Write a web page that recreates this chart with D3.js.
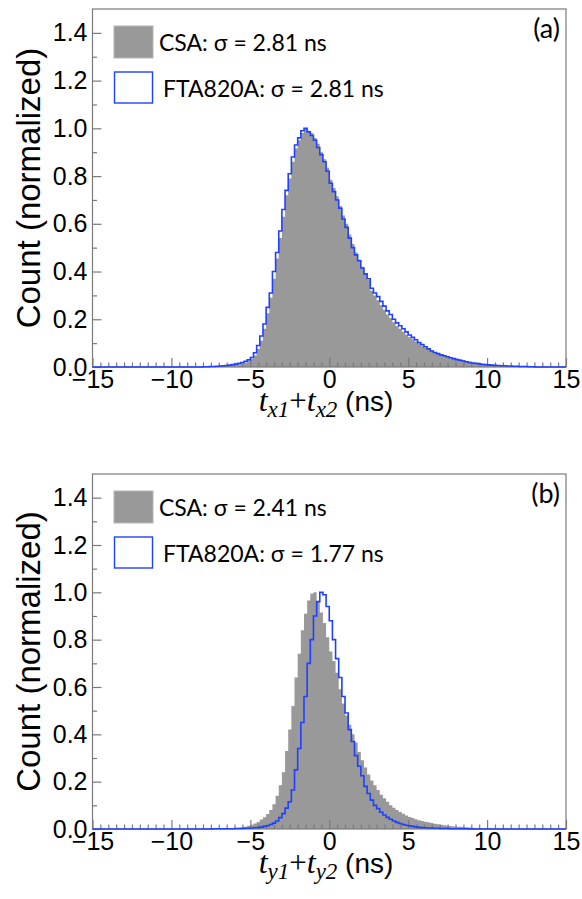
<!DOCTYPE html>
<html lang="en">
<head>
  <meta charset="UTF-8">
  <title>Timing sum distributions: CSA vs FTA820A</title>
  <script src="https://d3js.org/d3.v7.min.js"></script>
  <style>
    body { margin: 0; background: #fff; }
    svg { display: block; }
    .tick text { font-family: "Liberation Sans", Arial, sans-serif; font-size: 25px; fill: #000; }
    .tick line { stroke: #7a7a7a; stroke-width: 1.2; }
    .legend-text { font-family: Lato, "Open Sans", sans-serif; font-size: 23px; fill: #000; }
    .tag-text { font-family: Lato, "Open Sans", sans-serif; font-size: 27px; fill: #000; }
    .ylab { font-family: "Liberation Sans", Arial, sans-serif; font-size: 33px; fill: #000; }
  </style>
</head>
<body>
  <div id="chart"></div>
  <script>
    // histogram bins: first stored bin starts at binStart, all bins outside are empty
    const xMin = -15, xMax = 15;
    const binStart = -8;
    const binWidth = 0.2;

    // panel (a): t_x1 + t_x2
    const csaA = [
      0.001, 0.001, 0.001, 0.002, 0.002, 0.003, 0.004, 0.005, 0.006, 0.008,
      0.010, 0.012, 0.015, 0.019, 0.025, 0.033, 0.048, 0.075, 0.11, 0.16,
      0.225, 0.29, 0.37, 0.455, 0.54, 0.63, 0.72, 0.79, 0.86, 0.915,
      0.95, 0.98, 1.00, 0.99, 0.98, 0.96, 0.935, 0.90, 0.87, 0.835,
      0.785, 0.75, 0.715, 0.675, 0.635, 0.60, 0.555, 0.515, 0.48, 0.45,
      0.42, 0.39, 0.365, 0.32, 0.30, 0.28, 0.26, 0.24, 0.22, 0.205,
      0.187, 0.172, 0.16, 0.148, 0.136, 0.125, 0.116, 0.107, 0.097, 0.09,
      0.082, 0.075, 0.068, 0.063, 0.058, 0.054, 0.050, 0.046, 0.042, 0.038,
      0.035, 0.032, 0.028, 0.025, 0.022, 0.020, 0.017, 0.015, 0.013, 0.011,
      0.010, 0.009, 0.008, 0.007, 0.006, 0.005, 0.005, 0.004, 0.004, 0.003,
      0.003, 0.002, 0.002, 0.001, 0.001
    ];
    const ftaA = [
      0.001, 0.001, 0.002, 0.002, 0.003, 0.004, 0.005, 0.006, 0.008, 0.010,
      0.012, 0.015, 0.019, 0.024, 0.030, 0.040, 0.060, 0.090, 0.13, 0.18,
      0.25, 0.31, 0.40, 0.48, 0.57, 0.66, 0.74, 0.81, 0.88, 0.93,
      0.96, 0.99, 1.00, 0.985, 0.97, 0.95, 0.92, 0.89, 0.86, 0.82,
      0.77, 0.735, 0.70, 0.665, 0.62, 0.585, 0.54, 0.50, 0.47, 0.445,
      0.415, 0.39, 0.37, 0.33, 0.31, 0.295, 0.275, 0.255, 0.235, 0.22,
      0.20, 0.185, 0.173, 0.16, 0.147, 0.134, 0.124, 0.114, 0.102, 0.094,
      0.085, 0.076, 0.067, 0.061, 0.056, 0.051, 0.047, 0.043, 0.039, 0.035,
      0.031, 0.028, 0.025, 0.022, 0.019, 0.017, 0.015, 0.013, 0.011, 0.010,
      0.009, 0.008, 0.007, 0.006, 0.005, 0.005, 0.004, 0.004, 0.003, 0.003,
      0.002, 0.002, 0.002, 0.001, 0.001
    ];

    // panel (b): t_y1 + t_y2
    const csaB = [
      0.001, 0.001, 0.001, 0.001, 0.001, 0.002, 0.002, 0.002, 0.003, 0.003,
      0.004, 0.005, 0.007, 0.010, 0.014, 0.018, 0.023, 0.030, 0.040, 0.050,
      0.063, 0.080, 0.105, 0.14, 0.185, 0.24, 0.33, 0.42, 0.52, 0.64,
      0.74, 0.84, 0.91, 0.965, 0.995, 1.00, 0.965, 0.915, 0.87, 0.81,
      0.75, 0.71, 0.66, 0.59, 0.53, 0.48, 0.44, 0.40, 0.365, 0.325,
      0.29, 0.26, 0.23, 0.205, 0.185, 0.165, 0.145, 0.13, 0.115, 0.10,
      0.09, 0.08, 0.072, 0.064, 0.057, 0.051, 0.046, 0.041, 0.037, 0.034,
      0.031, 0.028, 0.025, 0.022, 0.020, 0.018, 0.016, 0.014, 0.013, 0.011,
      0.010, 0.009, 0.008, 0.007, 0.006, 0.005, 0.004, 0.004, 0.003, 0.003,
      0.002, 0.002, 0.001, 0.001, 0.001, 0.001, 0.001, 0, 0, 0,
      0, 0, 0, 0, 0
    ];
    const ftaB = [
      0, 0, 0, 0.001, 0.001, 0.001, 0.001, 0.001, 0.001, 0.001,
      0.002, 0.002, 0.002, 0.003, 0.003, 0.004, 0.005, 0.006, 0.008, 0.011,
      0.014, 0.019, 0.025, 0.034, 0.048, 0.065, 0.088, 0.115, 0.165, 0.25,
      0.34, 0.45, 0.56, 0.70, 0.80, 0.90, 0.96, 1.00, 0.99, 0.94,
      0.88, 0.80, 0.72, 0.64, 0.56, 0.49, 0.42, 0.37, 0.31, 0.265,
      0.225, 0.18, 0.15, 0.122, 0.10, 0.086, 0.071, 0.059, 0.049, 0.041,
      0.034, 0.028, 0.023, 0.019, 0.016, 0.013, 0.011, 0.009, 0.007, 0.006,
      0.005, 0.004, 0.004, 0.003, 0.003, 0.002, 0.002, 0.002, 0.001, 0.001,
      0.001, 0.001, 0.001, 0.001, 0, 0, 0, 0, 0, 0,
      0, 0, 0, 0, 0, 0, 0, 0, 0, 0,
      0, 0, 0, 0, 0
    ];

    const xTicks = [-15, -10, -5, 0, 5, 10, 15];
    const yTicks = [0, 0.2, 0.4, 0.6, 0.8, 1.0, 1.2, 1.4];
    const legendA = ["CSA: σ = 2.81 ns", "FTA820A: σ = 2.81 ns"];
    const legendB = ["CSA: σ = 2.41 ns", "FTA820A: σ = 1.77 ns"];

    const W = 582, H = 899;
    const grey = "#999999", blue = "#2040ff", frameColor = "#7a7a7a";
    const left = 92.5, right = 566;

    const svg = d3.select("#chart").append("svg")
      .attr("width", W).attr("height", H);

    // turn stored bins into full step data from xMin to xMax
    function fullBins(vals) {
      const nBefore = Math.round((binStart - xMin) / binWidth);
      const nTotal = Math.round((xMax - xMin) / binWidth);
      const out = [];
      for (let i = 0; i < nTotal; i++) {
        const j = i - nBefore;
        out.push({ x0: xMin + i * binWidth, v: (j >= 0 && j < vals.length) ? vals[j] : 0 });
      }
      out.push({ x0: xMax, v: out[out.length - 1].v });
      return out;
    }

    function drawPanel(cfg) {
      const h = cfg.bottom - cfg.top;
      const g = svg.append("g").attr("transform", `translate(0,${cfg.top})`);

      const x = d3.scaleLinear().domain([xMin, xMax]).range([left, right]);
      const y = d3.scaleLinear().domain([0, 1.5]).range([h, 0]);

      const csa = fullBins(cfg.csa);
      const fta = fullBins(cfg.fta);

      // CSA filled histogram
      g.append("path")
        .datum(csa)
        .attr("fill", grey)
        .attr("d", d3.area().curve(d3.curveStepAfter)
          .x(d => x(d.x0)).y0(y(0)).y1(d => y(d.v)));

      // frame
      g.append("rect")
        .attr("x", left).attr("y", 0)
        .attr("width", right - left).attr("height", h)
        .attr("fill", "none").attr("stroke", frameColor).attr("stroke-width", 1.2);

      // x axis: majors with labels, minors every 0.5
      const xMinor = d3.range(xMin, xMax + 0.01, 0.5).filter(v => Math.abs(v % 5) > 1e-6);
      g.append("g").attr("transform", `translate(0,${h})`)
        .call(d3.axisBottom(x).tickValues(xMinor).tickSize(-4.5).tickFormat(""))
        .call(a => a.select(".domain").remove());
      g.append("g").attr("transform", `translate(0,${h})`)
        .call(d3.axisBottom(x).tickValues(xTicks).tickSize(-9).tickPadding(3).tickFormat(d3.format("d")))
        .call(a => a.select(".domain").remove());

      // y axis
      const yMinor = d3.range(0.1, 1.5, 0.2);
      g.append("g").attr("transform", `translate(${left},0)`)
        .call(d3.axisLeft(y).tickValues(yMinor).tickSize(-4.5).tickFormat(""))
        .call(a => a.select(".domain").remove());
      g.append("g").attr("transform", `translate(${left},0)`)
        .call(d3.axisLeft(y).tickValues(yTicks).tickSize(-9).tickPadding(5).tickFormat(d3.format(".1f")))
        .call(a => a.select(".domain").remove());

      // FTA820A outline histogram
      g.append("path")
        .datum(fta)
        .attr("fill", "none")
        .attr("stroke", blue)
        .attr("stroke-width", 1.6)
        .attr("d", d3.line().curve(d3.curveStepAfter)
          .x(d => x(d.x0)).y(d => y(d.v)));

      // legend
      g.append("rect").attr("x", 114).attr("y", 17).attr("width", 39).attr("height", 32)
        .attr("fill", grey).attr("stroke", "#b5b5b5").attr("stroke-width", 1);
      g.append("text").attr("class", "legend-text").attr("x", 159).attr("y", 42).text(cfg.legend[0]);
      g.append("rect").attr("x", 114.5).attr("y", 63).attr("width", 38).attr("height", 31)
        .attr("fill", "#fff").attr("stroke", blue).attr("stroke-width", 1.4);
      g.append("text").attr("class", "legend-text").attr("x", 163).attr("y", 88).text(cfg.legend[1]);

      g.append("text").attr("class", "tag-text")
        .attr("x", 560).attr("y", 29).attr("text-anchor", "end").text(cfg.tag);

      // y label
      g.append("text").attr("class", "ylab")
        .attr("transform", `translate(40,${h / 2}) rotate(-90)`)
        .attr("text-anchor", "middle")
        .text("Count (normalized)");

      // x title: t_{c1}+t_{c2} (ns)
      const t = g.append("text")
        .attr("x", 326).attr("y", h + 44)
        .attr("text-anchor", "middle");
      const serif = "'Liberation Serif', 'Times New Roman', serif";
      t.append("tspan").attr("font-family", serif).attr("font-style", "italic").attr("font-size", 32).text("t");
      t.append("tspan").attr("font-family", serif).attr("font-style", "italic").attr("font-size", 23).attr("dy", 6).text(cfg.axis + "1");
      t.append("tspan").attr("font-family", serif).attr("font-size", 31).attr("dy", -6).text("+");
      t.append("tspan").attr("font-family", serif).attr("font-style", "italic").attr("font-size", 32).text("t");
      t.append("tspan").attr("font-family", serif).attr("font-style", "italic").attr("font-size", 23).attr("dy", 6).text(cfg.axis + "2");
      t.append("tspan").attr("font-family", "'Liberation Sans', Arial, sans-serif").attr("font-size", 28).attr("dy", -6).text(" (ns)");
    }

    drawPanel({ top: 9, bottom: 367, csa: csaA, fta: ftaA, legend: legendA, tag: "(a)", axis: "x" });
    drawPanel({ top: 474, bottom: 829, csa: csaB, fta: ftaB, legend: legendB, tag: "(b)", axis: "y" });
  </script>
</body>
</html>
